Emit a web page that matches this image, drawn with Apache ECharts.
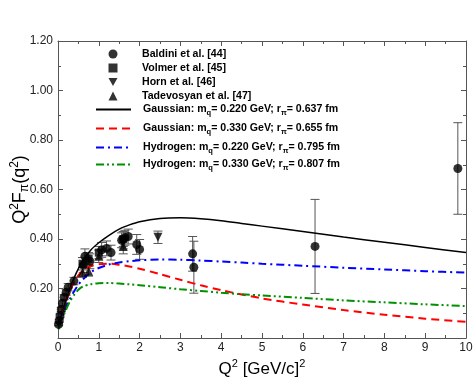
<!DOCTYPE html>
<html><head><meta charset="utf-8">
<script src="https://cdn.jsdelivr.net/npm/echarts@6/dist/echarts.min.js"></script>
<style>html,body{margin:0;padding:0;background:#fff}#c{width:473px;height:379px}</style>
</head><body><div id="c"></div>
<script>
// ---- data ----
const curveQ2 = [0.01,0.1,0.2,0.3,0.4,0.5,0.6,0.8,1.0,1.25,1.5,1.75,2,2.5,3,3.5,4,4.5,5,6,7,8,9,10];
const gauss220 = [0.05,0.10,0.155,0.205,0.245,0.28,0.31,0.355,0.385,0.415,0.44,0.457,0.47,0.483,0.486,0.482,0.474,0.463,0.452,0.43,0.408,0.387,0.366,0.345];
const gauss330 = [0.05,0.10,0.15,0.193,0.228,0.253,0.27,0.29,0.298,0.30,0.296,0.289,0.28,0.258,0.235,0.213,0.193,0.176,0.16,0.135,0.113,0.094,0.078,0.065];
const hydro220 = [0.045,0.085,0.125,0.16,0.19,0.215,0.235,0.265,0.283,0.297,0.305,0.31,0.314,0.317,0.316,0.313,0.309,0.305,0.30,0.292,0.284,0.277,0.27,0.264];
const hydro330 = [0.035,0.075,0.115,0.15,0.175,0.195,0.207,0.217,0.221,0.222,0.22,0.217,0.213,0.205,0.197,0.19,0.183,0.177,0.172,0.162,0.152,0.144,0.136,0.129];

const baldiniQ2  = [0.015,0.03,0.05,0.08,0.11,0.15,0.2,0.25,0.39,0.62,0.66,0.78,1.07,1.19,1.3,1.56,1.64,1.72,1.93,2.0,3.3,3.33,6.3,9.8];
const baldiniF   = [0.055,0.07,0.09,0.115,0.14,0.165,0.185,0.205,0.23,0.295,0.33,0.31,0.356,0.362,0.345,0.395,0.405,0.41,0.378,0.358,0.34,0.286,0.37,0.685];
const baldiniErr = [0.005,0.006,0.008,0.008,0.01,0.01,0.012,0.015,0.015,0.03,0.03,0.03,0.03,0.03,0.03,0.03,0.03,0.03,0.04,0.04,0.07,0.105,0.19,0.185];
const volmerQ2  = [0.6,0.75,1.0,1.6];
const volmerF   = [0.30,0.32,0.345,0.40];
const volmerErr = [0.025,0.025,0.025,0.03];
const hornQ2  = [1.6,2.45];
const hornF   = [0.385,0.407];
const hornErr = [0.025,0.025];
const tadQ2  = [0.6,0.75,1.0,1.6];
const tadF   = [0.265,0.27,0.33,0.37];
const tadErr = [0.02,0.02,0.025,0.03];

const xTickMin = 0, xTickMax = 10, xTickStep = 1;
const yTickMin = 0, yTickMax = 1.2, yTickStep = 0.2;

const names = ['Baldini et al. [44]','Volmer et al. [45]','Horn et al. [46]','Tadevosyan et al. [47]',
  'Gaussian: m_q= 0.220 GeV; r_pi= 0.637 fm','Gaussian: m_q= 0.330 GeV; r_pi= 0.655 fm',
  'Hydrogen: m_q= 0.220 GeV; r_pi= 0.795 fm','Hydrogen: m_q= 0.330 GeV; r_pi= 0.807 fm'];

// ---- build ----
const FONT = '"Liberation Sans", Arial, Helvetica, sans-serif';
const zip = (xs, ys) => xs.map((x, i) => [x, ys[i]]);
const errData = [];
[[baldiniQ2,baldiniF,baldiniErr],[volmerQ2,volmerF,volmerErr],[hornQ2,hornF,hornErr],[tadQ2,tadF,tadErr]].forEach(([q,f,e]) => {
  q.forEach((x, i) => errData.push([x, f[i] - e[i], f[i] + e[i]]));
});

function renderErr(params, api) {
  const x = api.value(0), lo = api.value(1), hi = api.value(2);
  const pLo = api.coord([x, lo]), pHi = api.coord([x, hi]);
  const w = 4.5;
  const style = { stroke: '#555', lineWidth: 1 };
  return { type: 'group', children: [
    { type: 'line', shape: { x1: pLo[0], y1: pLo[1], x2: pHi[0], y2: pHi[1] }, style },
    { type: 'line', shape: { x1: pLo[0] - w, y1: pLo[1], x2: pLo[0] + w, y2: pLo[1] }, style },
    { type: 'line', shape: { x1: pHi[0] - w, y1: pHi[1], x2: pHi[0] + w, y2: pHi[1] }, style }
  ]};
}

function legendLabel(name) {
  const m = name.match(/^(\w+): m_q= ([\d.]+ GeV); r_pi= ([\d.]+ fm)$/);
  if (!m) return '{a|' + name + '}';
  return '{a|' + m[1] + ': m}{s|q}{a|= ' + m[2] + '; r}{s|π}{a|= ' + m[3] + '}';
}
const LFS = 10.6;
const legendRich = {
  a: { fontFamily: FONT, fontWeight: 'bold', fontSize: LFS, color: '#000' },
  s: { fontFamily: FONT, fontWeight: 'bold', fontSize: 7.5, color: '#000', padding: [7, 0, 0, 0], verticalAlign: 'bottom' }
};
const legendTops = [48.5, 62.5, 76.5, 90.5, 104, 123, 142, 159];
const legends = names.map((n, i) => {
  const isLine = i >= 4;
  const item = i === 2 ? { name: n, icon: 'path://M0,0 L10,0 L5,9 Z' } : n;
  return {
    data: [item], left: isLine ? 95 : 108.5, top: legendTops[i], orient: 'vertical', padding: 0,
    itemWidth: isLine ? 35 : 9, itemHeight: isLine ? 10 : 9, selectedMode: false,
    formatter: legendLabel,
    itemStyle: isLine ? { opacity: 0 } : {},
    textStyle: { rich: legendRich, fontFamily: FONT, fontWeight: 'bold', fontSize: LFS, color: '#000',
      padding: [0, 0, 0, isLine ? 7 : 19.5] }
  };
});

const axisCommon = {
  min: xTickMin, max: xTickMax, interval: xTickStep, type: 'value',
  axisLine: { show: true, onZero: false, lineStyle: { color: '#555', width: 1 } },
  axisTick: { show: true, inside: true, length: 5, lineStyle: { color: '#555' } },
  minorTick: { show: true, splitNumber: 2, length: 3, lineStyle: { color: '#555' } },
  splitLine: { show: false }
};

const chart = echarts.init(document.getElementById('c'), null, { renderer: 'canvas' });
chart.setOption({
  animation: false,
  backgroundColor: '#fff',
  grid: { left: 58, right: 7, top: 41, bottom: 41, containLabel: false, outerBoundsMode: 'none' },
  legend: legends,
  xAxis: [
    Object.assign({}, axisCommon, {
      position: 'bottom',
      axisLabel: { fontFamily: FONT, fontSize: 12, color: '#222', margin: 4 },
      name: '{a|Q}{sup|2}{a| [GeV/c]}{sup|2}', nameLocation: 'middle', nameGap: 19,
      nameTextStyle: { rich: {
        a: { fontFamily: FONT, fontSize: 17, color: '#000' },
        sup: { fontFamily: FONT, fontSize: 11, color: '#000', padding: [0, 0, 9, 0], verticalAlign: 'top' }
      } }
    }),
    Object.assign({}, axisCommon, { position: 'top', axisLabel: { show: false } })
  ],
  yAxis: [
    Object.assign({}, axisCommon, {
      min: yTickMin, max: yTickMax, interval: yTickStep, position: 'left',
      axisLabel: { fontFamily: FONT, fontSize: 12, color: '#222', margin: 5,
        formatter: v => (v === 0 ? '' : v.toFixed(2)) },
      name: '{a|Q}{sup|2}{a|F}{sub|π}{a|(q}{sup|2}{a|)}', nameLocation: 'middle', nameGap: 27, nameRotate: 90,
      nameMoveOverlap: false,
      nameTextStyle: { rich: {
        a: { fontFamily: FONT, fontSize: 18, color: '#000' },
        sup: { fontFamily: FONT, fontSize: 12, color: '#000', padding: [0, 0, 10, 0], verticalAlign: 'top' },
        sub: { fontFamily: FONT, fontSize: 12, color: '#000', padding: [9, 0, 0, 0], verticalAlign: 'bottom' }
      } }
    }),
    Object.assign({}, axisCommon, { min: yTickMin, max: yTickMax, interval: yTickStep, position: 'right', axisLabel: { show: false } })
  ],
  series: [
    { type: 'custom', name: 'err', renderItem: renderErr, data: errData, encode: { x: 0, y: [1, 2] }, z: 1, silent: true },
    { type: 'scatter', name: names[0], data: zip(baldiniQ2, baldiniF), symbol: 'circle', symbolSize: 9, itemStyle: { color: '#000' }, z: 3 },
    { type: 'scatter', name: names[1], data: zip(volmerQ2, volmerF), symbol: 'rect', symbolSize: 8, itemStyle: { color: '#000' }, z: 3 },
    { type: 'scatter', name: names[2], data: zip(hornQ2, hornF), symbol: 'triangle', symbolRotate: 180, symbolSize: 9, itemStyle: { color: '#000' }, z: 3 },
    { type: 'scatter', name: names[3], data: zip(tadQ2, tadF), symbol: 'triangle', symbolSize: 9, itemStyle: { color: '#000' }, z: 3 },
    { type: 'line', name: names[4], data: zip(curveQ2, gauss220), smooth: 0.3, symbol: 'none', showSymbol: false,
      lineStyle: { color: '#000', width: 1.5, type: 'solid' }, itemStyle: { color: '#000' }, z: 2 },
    { type: 'line', name: names[5], data: zip(curveQ2, gauss330), smooth: 0.3, symbol: 'none', showSymbol: false,
      lineStyle: { color: '#ff0000', width: 2, type: [8, 5] }, itemStyle: { color: '#ff0000' }, z: 2 },
    { type: 'line', name: names[6], data: zip(curveQ2, hydro220), smooth: 0.3, symbol: 'none', showSymbol: false,
      lineStyle: { color: '#0000ff', width: 2, type: [8, 4, 2, 4] }, itemStyle: { color: '#0000ff' }, z: 2 },
    { type: 'line', name: names[7], data: zip(curveQ2, hydro330), smooth: 0.3, symbol: 'none', showSymbol: false,
      lineStyle: { color: '#009000', width: 2, type: [8, 3, 2, 3, 2, 3] }, itemStyle: { color: '#009000' }, z: 2 }
  ]
});
</script>
</body></html>
